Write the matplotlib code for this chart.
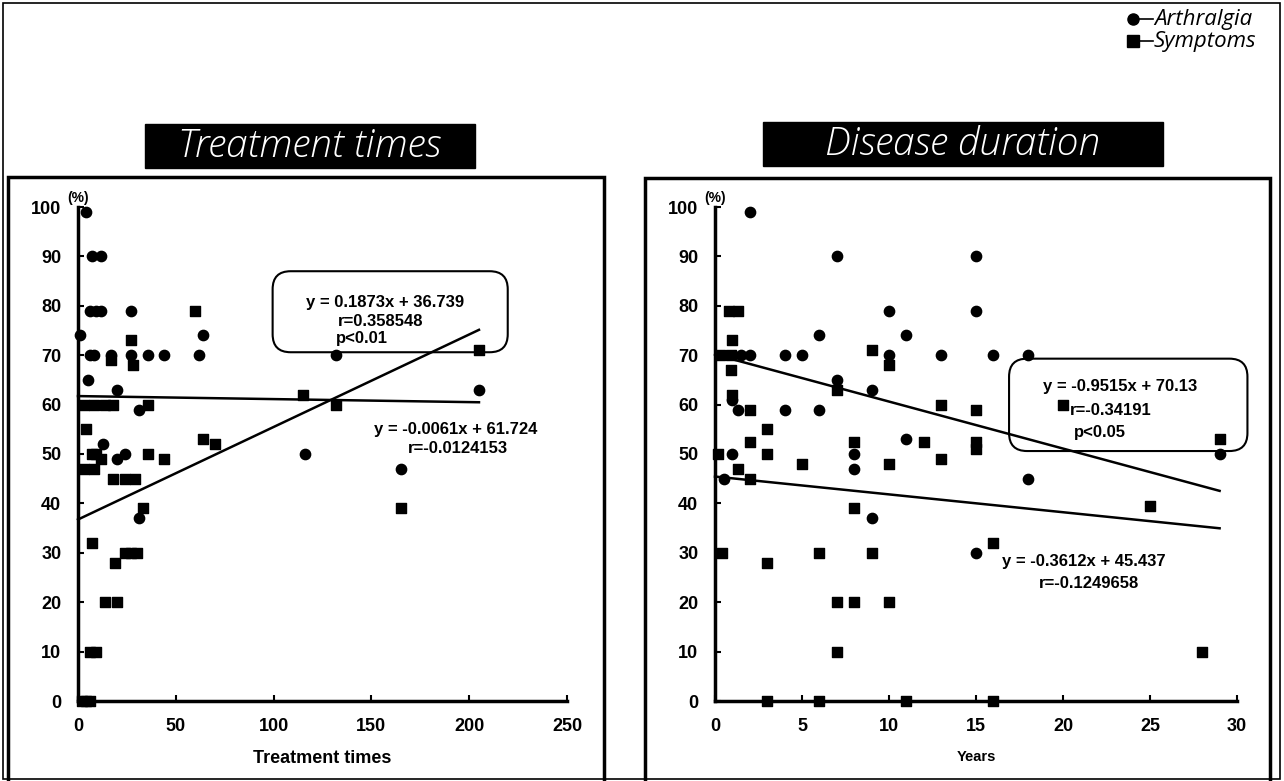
import numpy as np
import matplotlib
matplotlib.use("Agg")
import matplotlib.pyplot as plt
from matplotlib.patches import Rectangle, FancyBboxPatch
from matplotlib.lines import Line2D

plt.rcParams['font.family'] = ['Liberation Sans', 'DejaVu Sans']

# ---- data: treatment times panel ----
tt_arth_x = [4, 7, 12, 6, 9, 12, 27, 1, 64, 6, 8, 17, 27, 36, 44, 62, 5, 20, 31, 13, 24, 20, 31, 132, 205, 116, 165]
tt_arth_y = [99, 90, 90, 79, 79, 79, 79, 74, 74, 70, 70, 70, 70, 70, 70, 70, 65, 63, 59, 52, 50, 49, 37, 70, 63, 50, 47]
tt_symp_x = [60, 27, 17, 28, 3, 8, 14, 18, 36, 4, 7, 9, 12, 36, 44, 8, 3, 18, 24, 29, 33, 7, 24, 27, 30,
             19, 14, 20, 6, 9, 2, 4, 6, 64, 70, 115, 132, 205, 165]
tt_symp_y = [79, 73, 69, 68, 60, 60, 60, 60, 60, 55, 50, 50, 49, 50, 49, 47, 47, 45, 45, 45, 39, 32, 30, 30, 30,
             28, 20, 20, 10, 10, 0, 0, 0, 53, 52, 62, 60, 71, 39]
tt_fits = [(0.1873, 36.739), (-0.0061, 61.724)]

# ---- data: disease duration panel ----
dd_arth_x = [2, 7, 15, 10, 15, 6, 11, 2, 4, 5, 10, 13, 16, 18, 1.5, 7, 9, 1, 1.3, 4, 6, 11, 1, 0.5, 8, 8, 9, 18, 15, 29]
dd_arth_y = [99, 90, 90, 79, 79, 74, 74, 70, 70, 70, 70, 70, 70, 70, 70, 65, 63, 61, 59, 59, 59, 53, 50, 45, 50, 47, 37, 45, 30, 50]
dd_symp_x = [0.8, 1.3, 1, 0.3, 0.9, 0.9, 1, 2, 7, 9, 10, 13, 15, 20, 3, 2, 8, 12, 13, 15, 15, 0.2, 1.3, 2, 3, 5, 10,
             29, 8, 25, 16, 0.4, 3, 6, 9, 7, 8, 10, 7, 28, 3, 6, 11, 16]
dd_symp_y = [79, 79, 73, 70, 70, 67, 62, 59, 63, 71, 68, 60, 59, 60, 55, 52.5, 52.5, 52.5, 49, 52.5, 51, 50, 47, 45, 50, 48, 48,
             53, 39, 39.5, 32, 30, 28, 30, 30, 20, 20, 20, 10, 10, 0, 0, 0, 0]
dd_fits = [(-0.9515, 70.13), (-0.3612, 45.437)]

yticks = np.arange(0, 101, 10)

fig = plt.figure(figsize=(12.84, 7.81), dpi=100)
W, H = 1284.0, 781.0


def fx(px):
    return px / W


def fy(py):
    return 1 - py / H


# outer border
fig.add_artist(Rectangle((fx(3), fy(779)), fx(1277), 776 / H, transform=fig.transFigure,
                         fill=False, ec='black', lw=1.2))

# panel frames
fig.add_artist(Rectangle((fx(8), -0.05), fx(596), fy(177) + 0.05, transform=fig.transFigure,
                         fill=False, ec='black', lw=2.5))
fig.add_artist(Rectangle((fx(645), -0.05), fx(625), fy(178) + 0.05, transform=fig.transFigure,
                         fill=False, ec='black', lw=2.5))

# title boxes
title_font = dict(color='white', fontsize=28, style='italic', fontweight='light',
                  family=['Open Sans', 'DejaVu Sans'], ha='center', va='center')
fig.add_artist(Rectangle((fx(145), fy(168)), fx(330), 44 / H, transform=fig.transFigure,
                         fc='black', ec='black'))
fig.text(fx(310), fy(147), 'Treatment times', **title_font)
fig.add_artist(Rectangle((fx(763), fy(166)), fx(400), 44 / H, transform=fig.transFigure,
                         fc='black', ec='black'))
fig.text(fx(963), fy(145), 'Disease duration', **title_font)

# legend
for py, mk, lab in [(19, 'o', 'Arthralgia'), (41, 's', 'Symptoms')]:
    fig.add_artist(Line2D([fx(1138), fx(1153)], [fy(py), fy(py)], transform=fig.transFigure,
                          color='black', lw=1.2))
    fig.add_artist(Line2D([fx(1133)], [fy(py)], transform=fig.transFigure, marker=mk,
                          color='black', ms=8, ls='none'))
    fig.text(fx(1154), fy(py), lab, fontsize=16, style='italic', ha='left', va='center',
             family=['Open Sans', 'DejaVu Sans'])


def setup(ax, xmax, xticks, xlabel, xlabel_size):
    ax.set_xlim(0, xmax)
    ax.set_ylim(0, 100)
    ax.set_xticks(xticks)
    ax.set_yticks(yticks)
    for s in ['top', 'right']:
        ax.spines[s].set_visible(False)
    for s in ['left', 'bottom']:
        ax.spines[s].set_linewidth(2.5)
    ax.tick_params(direction='in', length=4, width=1.5, labelsize=13, pad=12)
    for t in ax.get_xticklabels() + ax.get_yticklabels():
        t.set_fontweight('bold')
    ax.set_xlabel(xlabel, fontsize=xlabel_size, fontweight='bold', labelpad=11)
    ax.text(0, 100.5, '(%)', fontsize=10, fontweight='bold', ha='center', va='bottom')
    ax.patch.set_alpha(0)


def points(ax, ax_x, ax_y, sx, sy):
    ax.scatter(ax_x, ax_y, marker='o', s=55, color='black', clip_on=False, zorder=3)
    ax.scatter(sx, sy, marker='s', s=45, color='black', clip_on=False, zorder=3)


def round_box(ax, x0, y0, x1, y1, radius_px=18):
    # rounded box in data coords with circular corners on screen
    pos = ax.get_position()
    xr = ax.get_xlim()[1] / (pos.width * W)
    yr = ax.get_ylim()[1] / (pos.height * H)
    box = FancyBboxPatch((x0, y0), x1 - x0, y1 - y0,
                         boxstyle='round,pad=0,rounding_size=%f' % (radius_px * xr),
                         mutation_aspect=yr / xr, fc='none', ec='black', lw=1.5,
                         zorder=4, clip_on=False)
    ax.add_patch(box)


ann = dict(fontsize=12, fontweight='bold', family=['Liberation Sans', 'DejaVu Sans'], zorder=5)

ax_bottom, ax_h = 701, 494

# left panel
ax1 = fig.add_axes([fx(78), fy(ax_bottom), fx(489), ax_h / H])
setup(ax1, 250, [0, 50, 100, 150, 200, 250], 'Treatment times', 13)
points(ax1, tt_arth_x, tt_arth_y, tt_symp_x, tt_symp_y)
xmax1 = max(tt_arth_x + tt_symp_x)
for m, b in tt_fits:
    xs = np.array([0, xmax1])
    ax1.plot(xs, m * xs + b, color='black', lw=1.8, clip_on=False)
round_box(ax1, 99.5, 70.6, 219.7, 87.0)
ax1.text(157, 80.6, 'y = 0.1873x + 36.739', ha='center', va='center', **ann)
ax1.text(133, 76.8, 'r=0.358548', ha='left', va='center', **ann)
ax1.text(132, 73.3, 'p<0.01', ha='left', va='center', **ann)
ax1.text(151.5, 55.0, 'y = -0.0061x + 61.724', ha='left', va='center', **ann)
ax1.text(168.5, 51.2, 'r=-0.0124153', ha='left', va='center', **ann)

# right panel
ax2 = fig.add_axes([fx(715), fy(ax_bottom), fx(522), ax_h / H])
setup(ax2, 30, [0, 5, 10, 15, 20, 25, 30], 'Years', 10.5)
points(ax2, dd_arth_x, dd_arth_y, dd_symp_x, dd_symp_y)
xmax2 = max(dd_arth_x + dd_symp_x)
for m, b in dd_fits:
    xs = np.array([0, xmax2])
    ax2.plot(xs, m * xs + b, color='black', lw=1.8, clip_on=False)
round_box(ax2, 16.9, 50.6, 30.6, 69.3)
ax2.text(23.3, 63.6, 'y = -0.9515x + 70.13', ha='center', va='center', **ann)
ax2.text(20.4, 58.8, 'r=-0.34191', ha='left', va='center', **ann)
ax2.text(20.6, 54.4, 'p<0.05', ha='left', va='center', **ann)
ax2.text(16.5, 28.3, 'y = -0.3612x + 45.437', ha='left', va='center', **ann)
ax2.text(18.6, 23.8, 'r=-0.1249658', ha='left', va='center', **ann)

fig.savefig('out.png', dpi=100)
